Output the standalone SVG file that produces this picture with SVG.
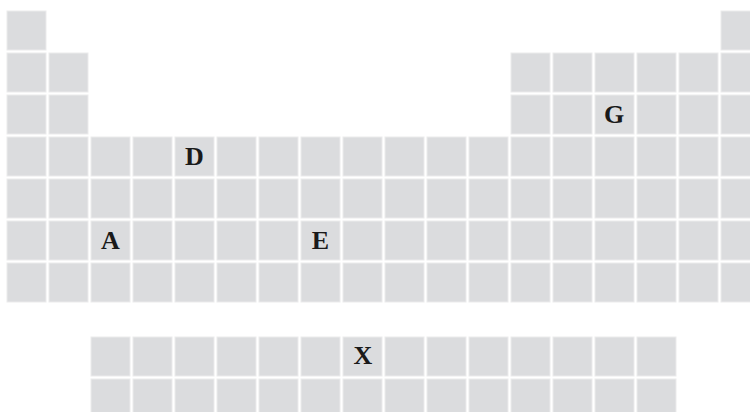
<svg xmlns="http://www.w3.org/2000/svg" width="750" height="412" viewBox="0 0 750 412">
<style>
.c{fill:#dbdcde;stroke:#ebebec;stroke-width:1}
.t{font-family:"Liberation Serif","Times New Roman",serif;font-weight:bold;font-size:26px;fill:#1a1a1a;text-anchor:middle}
</style>
<rect width="750" height="412" fill="#ffffff"/>
<defs><rect id="cell" width="39" height="39" class="c"/></defs>
<g id="row1">
<use href="#cell" x="7" y="11"/><use href="#cell" x="721" y="11"/>
</g>
<g id="row2">
<use href="#cell" x="7" y="53"/><use href="#cell" x="49" y="53"/>
<use href="#cell" x="511" y="53"/><use href="#cell" x="553" y="53"/><use href="#cell" x="595" y="53"/><use href="#cell" x="637" y="53"/><use href="#cell" x="679" y="53"/><use href="#cell" x="721" y="53"/>
</g>
<g id="row3">
<use href="#cell" x="7" y="95"/><use href="#cell" x="49" y="95"/>
<use href="#cell" x="511" y="95"/><use href="#cell" x="553" y="95"/><use href="#cell" x="595" y="95"/><use href="#cell" x="637" y="95"/><use href="#cell" x="679" y="95"/><use href="#cell" x="721" y="95"/>
</g>
<g id="row4">
<use href="#cell" x="7" y="137"/><use href="#cell" x="49" y="137"/><use href="#cell" x="91" y="137"/><use href="#cell" x="133" y="137"/><use href="#cell" x="175" y="137"/><use href="#cell" x="217" y="137"/><use href="#cell" x="259" y="137"/><use href="#cell" x="301" y="137"/><use href="#cell" x="343" y="137"/><use href="#cell" x="385" y="137"/><use href="#cell" x="427" y="137"/><use href="#cell" x="469" y="137"/><use href="#cell" x="511" y="137"/><use href="#cell" x="553" y="137"/><use href="#cell" x="595" y="137"/><use href="#cell" x="637" y="137"/><use href="#cell" x="679" y="137"/><use href="#cell" x="721" y="137"/>
</g>
<g id="row5">
<use href="#cell" x="7" y="179"/><use href="#cell" x="49" y="179"/><use href="#cell" x="91" y="179"/><use href="#cell" x="133" y="179"/><use href="#cell" x="175" y="179"/><use href="#cell" x="217" y="179"/><use href="#cell" x="259" y="179"/><use href="#cell" x="301" y="179"/><use href="#cell" x="343" y="179"/><use href="#cell" x="385" y="179"/><use href="#cell" x="427" y="179"/><use href="#cell" x="469" y="179"/><use href="#cell" x="511" y="179"/><use href="#cell" x="553" y="179"/><use href="#cell" x="595" y="179"/><use href="#cell" x="637" y="179"/><use href="#cell" x="679" y="179"/><use href="#cell" x="721" y="179"/>
</g>
<g id="row6">
<use href="#cell" x="7" y="221"/><use href="#cell" x="49" y="221"/><use href="#cell" x="91" y="221"/><use href="#cell" x="133" y="221"/><use href="#cell" x="175" y="221"/><use href="#cell" x="217" y="221"/><use href="#cell" x="259" y="221"/><use href="#cell" x="301" y="221"/><use href="#cell" x="343" y="221"/><use href="#cell" x="385" y="221"/><use href="#cell" x="427" y="221"/><use href="#cell" x="469" y="221"/><use href="#cell" x="511" y="221"/><use href="#cell" x="553" y="221"/><use href="#cell" x="595" y="221"/><use href="#cell" x="637" y="221"/><use href="#cell" x="679" y="221"/><use href="#cell" x="721" y="221"/>
</g>
<g id="row7">
<use href="#cell" x="7" y="263"/><use href="#cell" x="49" y="263"/><use href="#cell" x="91" y="263"/><use href="#cell" x="133" y="263"/><use href="#cell" x="175" y="263"/><use href="#cell" x="217" y="263"/><use href="#cell" x="259" y="263"/><use href="#cell" x="301" y="263"/><use href="#cell" x="343" y="263"/><use href="#cell" x="385" y="263"/><use href="#cell" x="427" y="263"/><use href="#cell" x="469" y="263"/><use href="#cell" x="511" y="263"/><use href="#cell" x="553" y="263"/><use href="#cell" x="595" y="263"/><use href="#cell" x="637" y="263"/><use href="#cell" x="679" y="263"/><use href="#cell" x="721" y="263"/>
</g>
<g id="lanthanides">
<use href="#cell" x="91" y="337"/><use href="#cell" x="133" y="337"/><use href="#cell" x="175" y="337"/><use href="#cell" x="217" y="337"/><use href="#cell" x="259" y="337"/><use href="#cell" x="301" y="337"/><use href="#cell" x="343" y="337"/><use href="#cell" x="385" y="337"/><use href="#cell" x="427" y="337"/><use href="#cell" x="469" y="337"/><use href="#cell" x="511" y="337"/><use href="#cell" x="553" y="337"/><use href="#cell" x="595" y="337"/><use href="#cell" x="637" y="337"/>
</g>
<g id="actinides">
<use href="#cell" x="91" y="379"/><use href="#cell" x="133" y="379"/><use href="#cell" x="175" y="379"/><use href="#cell" x="217" y="379"/><use href="#cell" x="259" y="379"/><use href="#cell" x="301" y="379"/><use href="#cell" x="343" y="379"/><use href="#cell" x="385" y="379"/><use href="#cell" x="427" y="379"/><use href="#cell" x="469" y="379"/><use href="#cell" x="511" y="379"/><use href="#cell" x="553" y="379"/><use href="#cell" x="595" y="379"/><use href="#cell" x="637" y="379"/>
</g>
<g id="connectors"></g>
<g id="node-D"><text class="t" x="194.5" y="164.5">D</text></g>
<g id="node-G"><text class="t" x="614" y="123">G</text></g>
<g id="node-A"><text class="t" x="110.5" y="249">A</text></g>
<g id="node-E"><text class="t" x="320.5" y="249">E</text></g>
<g id="node-X"><text class="t" x="363" y="364">X</text></g>
</svg>
